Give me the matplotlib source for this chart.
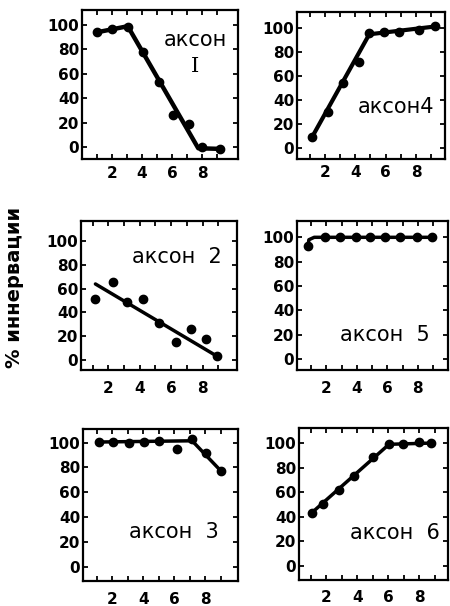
import matplotlib
matplotlib.use("Agg")
import matplotlib.pyplot as plt

# session number vs % innervation
axon1_x = [0.98, 1.98, 3.04, 4.04, 5.13, 6.07, 7.1, 7.98, 9.2]
axon1_y = [94, 96.5, 98.5, 78, 53, 26, 18.5, 0, -1.5]
axon1_fit_x = [0.98, 3.05, 7.75, 9.2]
axon1_fit_y = [94, 99, -1, -1.5]

axon4_x = [1.18, 2.2, 3.22, 4.22, 4.92, 5.86, 6.88, 8.19, 9.24]
axon4_y = [9.7, 30.5, 54.7, 72, 96, 97, 97, 99, 102]
axon4_fit_x = [1.18, 4.92, 9.24]
axon4_fit_y = [9.7, 95, 101.5]

axon2_x = [1.17, 2.28, 3.2, 4.2, 5.23, 6.3, 7.26, 8.2, 8.95]
axon2_y = [51, 66, 49, 51, 31, 15, 26, 18, 3]
axon2_fit_x = [1.17, 8.95]
axon2_fit_y = [64, 3]

axon5_x = [0.79, 1.89, 2.88, 3.93, 4.85, 5.84, 6.82, 7.92, 8.91]
axon5_y = [93, 100, 100, 100, 100, 100, 100, 100, 100]
axon5_fit_x = [0.79, 0.85, 1.2, 8.91]
axon5_fit_y = [93, 98, 100, 100]

axon3_x = [1.16, 2.05, 3.05, 4.02, 4.99, 6.17, 7.14, 8.05, 9.01]
axon3_y = [100.5, 100.5, 99.8, 100.5, 101.6, 94.9, 103, 91.7, 77.4]
axon3_fit_x = [1.16, 7.14, 9.01]
axon3_fit_y = [100.5, 101.5, 77]

axon6_x = [1.07, 1.82, 2.83, 3.81, 5.04, 6.05, 6.96, 7.97, 8.73]
axon6_y = [43, 50, 62, 73, 89, 99, 99.5, 100.5, 100]
axon6_fit_x = [1.07, 6.05, 8.73]
axon6_fit_y = [43, 99, 100]

x_ticks = [1, 2, 3, 4, 5, 6, 7, 8, 9]
x_labels = ["", "2", "", "4", "", "6", "", "8", ""]
y_ticks = [0, 20, 40, 60, 80, 100]
y_labels = ["0", "20", "40", "60", "80", "100"]

W, H = 450, 606
fig = plt.figure(figsize=(W / 100, H / 100), dpi=100)


def panel(box, xlim, ylim, xs, ys, fx, fy, label, label_pos, lw=2.5, xpad=6):
    # box is (left, top, right, bottom) in pixels
    l, t, r, b = box
    ax = fig.add_axes([l / W, 1 - b / H, (r - l) / W, (b - t) / H])
    ax.plot(fx, fy, color="black", lw=lw, solid_capstyle="round",
            solid_joinstyle="round", zorder=2)
    ax.plot(xs, ys, "o", color="black", ms=6, zorder=3)
    ax.set_xlim(*xlim)
    ax.set_ylim(*ylim)
    ax.set_xticks(x_ticks)
    ax.set_xticklabels(x_labels)
    ax.set_yticks(y_ticks)
    ax.set_yticklabels(y_labels)
    ax.tick_params(direction="in", length=3.5, width=1.3, top=True, right=True,
                   labelsize=11)
    ax.tick_params(axis="x", pad=xpad)
    ax.tick_params(axis="y", pad=2)
    for lab in ax.get_xticklabels() + ax.get_yticklabels():
        lab.set_fontweight("bold")
    for s in ax.spines.values():
        s.set_linewidth(1.6)
    ax.text(label_pos[0], label_pos[1], label, transform=ax.transAxes,
            ha="center", va="center", fontsize=15)
    return ax


ax1 = panel((82, 10, 238, 159), (0, 10.4), (-9.8, 112.3),
            axon1_x, axon1_y, axon1_fit_x, axon1_fit_y,
            "аксон", (0.726, 0.80), lw=3.2, xpad=5)
ax1.text(0.726, 0.62, "I", transform=ax1.transAxes, ha="center", va="center",
         fontsize=15, family="DejaVu Serif")

panel((297, 12, 445, 159), (0.17, 9.9), (-9, 113.6),
      axon4_x, axon4_y, axon4_fit_x, axon4_fit_y,
      "аксон4", (0.668, 0.356), lw=3.0, xpad=4)

panel((81, 221, 237, 370), (0.25, 10.2), (-8.4, 117),
      axon2_x, axon2_y, axon2_fit_x, axon2_fit_y,
      "аксон  2", (0.615, 0.76), xpad=8)

panel((297, 221, 448, 370), (0.07, 9.98), (-9, 113.4),
      axon5_x, axon5_y, axon5_fit_x, axon5_fit_y,
      "аксон  5", (0.583, 0.235), xpad=8)

panel((83, 429, 238, 581), (0.1, 10.1), (-11.6, 111),
      axon3_x, axon3_y, axon3_fit_x, axon3_fit_y,
      "аксон  3", (0.587, 0.324), xpad=8)

panel((299, 428, 448, 580), (0.26, 9.84), (-11.7, 112.3),
      axon6_x, axon6_y, axon6_fit_x, axon6_fit_y,
      "аксон  6", (0.644, 0.309), xpad=7)

fig.text(15 / W, 1 - 287 / H, "% иннервации", rotation=90,
         ha="center", va="center", fontsize=14, fontweight="bold")

fig.savefig("out.png", dpi=100)
